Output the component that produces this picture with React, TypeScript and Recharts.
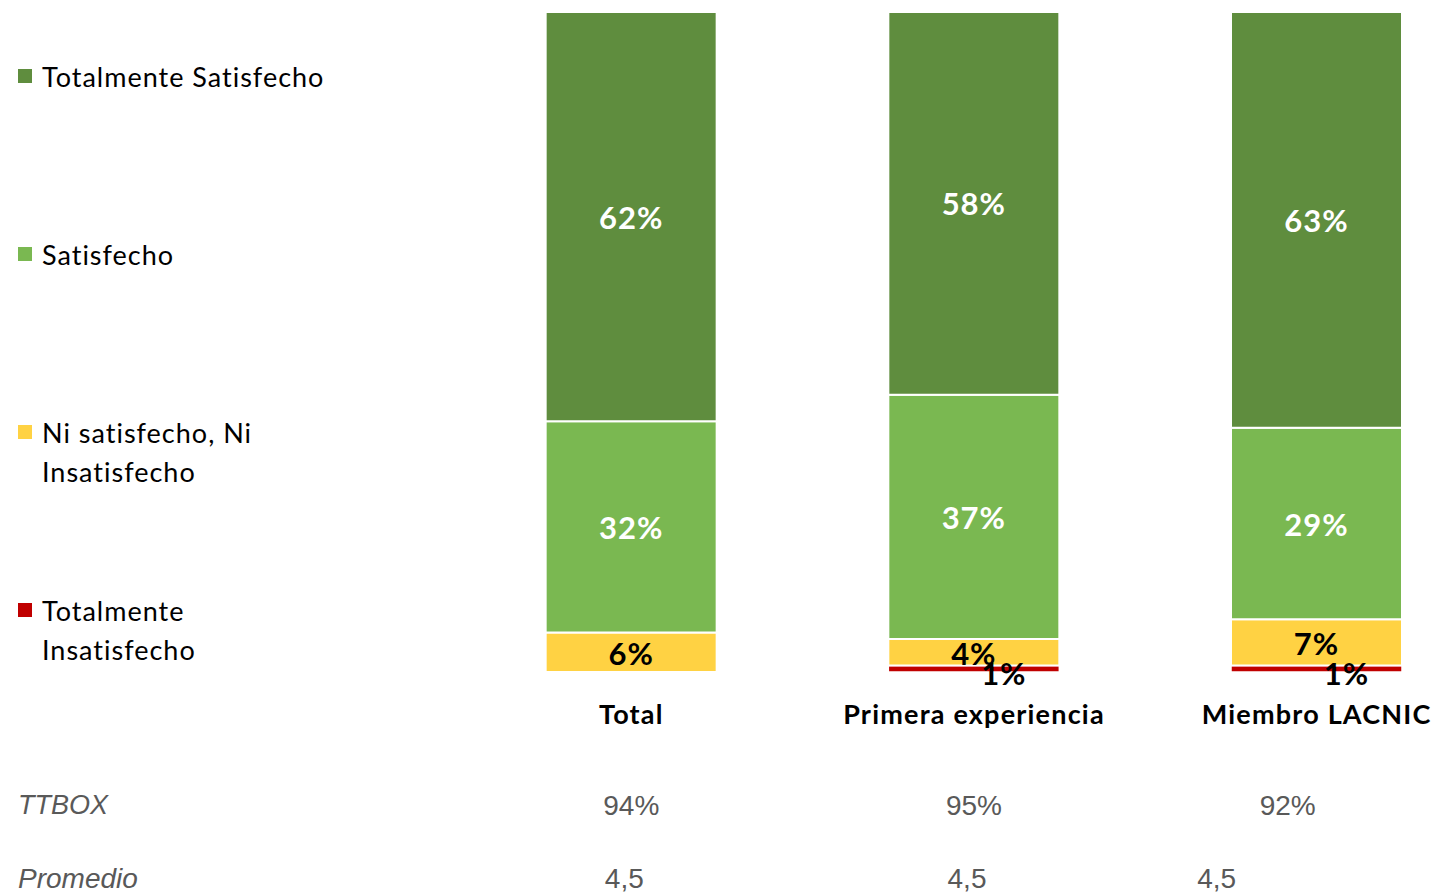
import React from 'react';
import { BarChart, Bar, XAxis, YAxis, LabelList } from 'recharts';

const categories = ['Total', 'Primera experiencia', 'Miembro LACNIC'];
const totalmenteInsatisfecho = [0, 1, 1];
const niNi = [6, 4, 7];
const satisfecho = [32, 37, 29];
const totalmenteSatisfecho = [62, 58, 63];
const ttbox = ['94%', '95%', '92%'];
const promedio = ['4,5', '4,5', '4,5'];
const rowHeaders = ['TTBOX', 'Promedio'];

const seriesNames = ['Totalmente Insatisfecho', 'Ni satisfecho, Ni Insatisfecho', 'Satisfecho', 'Totalmente Satisfecho'];
const colors = ['#C00000', '#FFD243', '#7AB851', '#5F8D3E'];

const data = categories.map((c, i) => ({
  name: c,
  ti: totalmenteInsatisfecho[i],
  nn: niNi[i],
  s: satisfecho[i],
  ts: totalmenteSatisfecho[i],
  ttbox: ttbox[i],
  promedio: promedio[i],
}));

const LABEL_FONT = 'Lato, "Noto Sans", sans-serif';
const TABLE_FONT = '"Liberation Sans", Arial, sans-serif';
const rowOffsets = [[0, -7], [0, -7], [-29, -100]];

const makeLabel = (fill: string, dx = 0, dy = 0) => (props: any) => {
  const { x, y, width, height, value } = props;
  if (!value) return null;
  return (
    <text
      x={x + width / 2 + dx}
      y={y + height / 2 + dy}
      textAnchor="middle"
      dominantBaseline="central"
      fill={fill}
      fontFamily={LABEL_FONT}
      fontWeight={700}
      fontSize={31}
      letterSpacing={1}
    >
      {`${value}%`}
    </text>
  );
};

const CustomTick = (props: any) => {
  const { x, y, payload, index } = props;
  const d = data[index];
  const off = rowOffsets[index] || [0, 0];
  return (
    <g>
      <text x={x} y={y + 33} textAnchor="middle" dominantBaseline="central" fontFamily={LABEL_FONT} fontWeight={700} fontSize={27} letterSpacing={1.2} fill="#000">
        {payload.value}
      </text>
      <text x={x + off[0]} y={y + 125} textAnchor="middle" dominantBaseline="central" fontFamily={TABLE_FONT} fontSize={28} fill="#595959">
        {d.ttbox}
      </text>
      <text x={x + off[1]} y={y + 198} textAnchor="middle" dominantBaseline="central" fontFamily={TABLE_FONT} fontSize={28} fill="#595959">
        {d.promedio}
      </text>
      {index === 0 && (
        <>
          <text x={18} y={y + 125} dominantBaseline="central" fontFamily={TABLE_FONT} fontStyle="italic" fontSize={27} fill="#595959">
            {rowHeaders[0]}
          </text>
          <text x={18} y={y + 198} dominantBaseline="central" fontFamily={TABLE_FONT} fontStyle="italic" fontSize={28} fill="#595959">
            {rowHeaders[1]}
          </text>
        </>
      )}
    </g>
  );
};

const legendItems = [
  { name: seriesNames[3], color: colors[3], lines: ['Totalmente Satisfecho'], top: 76 },
  { name: seriesNames[2], color: colors[2], lines: ['Satisfecho'], top: 254 },
  { name: seriesNames[1], color: colors[1], lines: ['Ni satisfecho, Ni', 'Insatisfecho'], top: 432 },
  { name: seriesNames[0], color: colors[0], lines: ['Totalmente', 'Insatisfecho'], top: 610 },
];

export default function App() {
  return (
    <div style={{ position: 'absolute', left: 0, top: 0, width: 1435, height: 893, overflow: 'hidden', background: '#fff' }}>
      <BarChart
        width={1500}
        height={893}
        data={data}
        margin={{ top: 12, right: 12, left: 460, bottom: 191 }}
        barCategoryGap="25%"
      >
        <XAxis dataKey="name" axisLine={false} tickLine={false} tick={<CustomTick />} interval={0} height={30} />
        <YAxis hide domain={[0, 100]} />
        <Bar dataKey="ti" stackId="a" fill={colors[0]} stroke="#fff" strokeWidth={1.5} isAnimationActive={false}>
          <LabelList dataKey="ti" content={makeLabel('#000', 30, 4)} />
        </Bar>
        <Bar dataKey="nn" stackId="a" fill={colors[1]} stroke="#fff" strokeWidth={2} isAnimationActive={false}>
          <LabelList dataKey="nn" content={makeLabel('#000', 0, 1)} />
        </Bar>
        <Bar dataKey="s" stackId="a" fill={colors[2]} stroke="#fff" strokeWidth={2} isAnimationActive={false}>
          <LabelList dataKey="s" content={makeLabel('#fff')} />
        </Bar>
        <Bar dataKey="ts" stackId="a" fill={colors[3]} stroke="#fff" strokeWidth={2} isAnimationActive={false}>
          <LabelList dataKey="ts" content={makeLabel('#fff')} />
        </Bar>
      </BarChart>
      {legendItems.map((it) => (
        <div key={it.name} style={{ position: 'absolute', left: 18, top: it.top - 19, fontFamily: LABEL_FONT, fontSize: 27, letterSpacing: 1, lineHeight: '39px', color: '#000' }}>
          <span style={{ position: 'absolute', left: 0, top: 12, width: 14, height: 14, background: it.color }} />
          <div style={{ marginLeft: 24, whiteSpace: 'nowrap' }}>
            {it.lines.map((l) => (
              <div key={l}>{l}</div>
            ))}
          </div>
        </div>
      ))}
    </div>
  );
}
